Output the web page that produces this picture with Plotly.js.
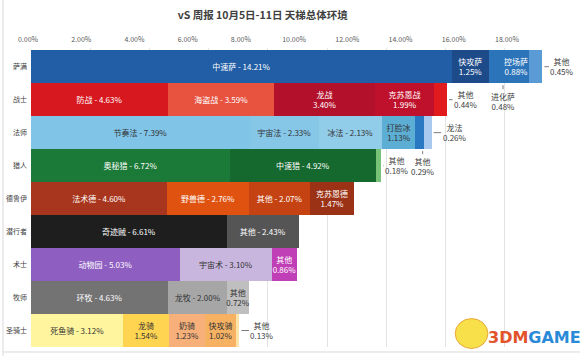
<!DOCTYPE html>
<html>
<head>
<meta charset="utf-8">
<script src="https://cdn.plot.ly/plotly-3.0.1.min.js"></script>
<style>html,body{margin:0;padding:0;background:#fff;}#chart{width:580px;height:356px;}</style>
</head>
<body>
<div id="chart"></div>
<script>
// ---- data ----
const classes = ['萨满','战士','法师','猎人','德鲁伊','潜行者','术士','牧师','圣骑士'];
const segNames = [
  ['中速萨','快攻萨','进化萨','控场萨','其他'],
  ['防战','海盗战','龙战','克苏恩战','其他'],
  ['节奏法','宇宙法','冰法','打脸冰','其他','龙法'],
  ['奥秘猎','中速猎','其他'],
  ['法术德','野兽德','其他','克苏恩德'],
  ['奇迹贼','其他'],
  ['动物园','宇宙术','其他'],
  ['环牧','龙牧','其他'],
  ['死鱼骑','龙骑','奶骑','快攻骑','其他']
];
const segValues = [
  [14.21,1.25,0.48,0.88,0.45],
  [4.63,3.59,3.40,1.99,0.44],
  [7.39,2.33,2.13,1.13,0.29,0.26],
  [6.72,4.92,0.18],
  [4.60,2.76,2.07,1.47],
  [6.61,2.43],
  [5.03,3.10,0.86],
  [4.63,2.00,0.72],
  [3.12,1.54,1.23,1.02,0.13]
];
const topTicks = [0,2,4,6,8,10,12,14,16,18];

// ---- styles ----
const segLabelModes = [
  ['one','two','out','two','out'],
  ['one','one','two','two','out'],
  ['one','one','one','two','out','out'],
  ['one','one','out'],
  ['one','one','one','two'],
  ['one','one'],
  ['one','one','two'],
  ['one','one','two'],
  ['one','two','two','two','out']
];
const segColors = [
  ['#215ea6','#1d4b8a','#2c74ba','#2c74ba','#5b9bd5'],
  ['#d7181f','#e7533f','#b3112b','#c0112c','#e11b1d'],
  ['#80c4e7','#86c7e8','#91cce9','#5caed4','#2a78c1','#a9c9ef'],
  ['#1b7a37','#15692e','#76c276'],
  ['#a8351d','#df520f','#c54312','#9b3115'],
  ['#1e1e1e','#555555'],
  ['#8e5ec1','#c9b6de','#c13fb6'],
  ['#737373','#a6a6a6','#bfbfbf'],
  ['#fff59e','#ffd451','#f7b07a','#f6b163','#fce3a8']
];
// outside-label placement (pixel offsets)
const outLayout = [
  {row:0, seg:2, frac:1,    below:true,  ax:0,  ay:18},
  {row:0, seg:4, frac:1,    below:false, ax:20, ay:0},
  {row:1, seg:4, frac:1,    below:false, ax:19, ay:0},
  {row:2, seg:4, frac:0.85, below:true,  ax:0,  ay:17},
  {row:2, seg:5, frac:1,    below:false, ax:23, ay:0},
  {row:3, seg:2, frac:1,    below:false, ax:16, ay:0},
  {row:8, seg:4, frac:1,    below:false, ax:23, ay:0}
];

const FONT = '"Noto Sans CJK SC", "Noto Sans", sans-serif';
function pct(v){ return v.toFixed(2) + '%'; }
function textColor(hex){
  const r=parseInt(hex.substr(1,2),16), g=parseInt(hex.substr(3,2),16), b=parseInt(hex.substr(5,2),16);
  return (0.299*r+0.587*g+0.114*b)/255 > 0.55 ? '#333333' : '#ffffff';
}

const traces = [];
const maxLevels = Math.max(...segValues.map(a => a.length));
for (let k = 0; k < maxLevels; k++) {
  const ys=[], xs=[], texts=[], cols=[], tcols=[];
  segValues.forEach((vals, r) => {
    if (vals.length > k) {
      ys.push(classes[r]);
      xs.push(vals[k]);
      const m = segLabelModes[r][k], n = segNames[r][k];
      texts.push(m === 'one' ? n + ' - ' + pct(vals[k]) : m === 'two' ? n + '<br>' + pct(vals[k]) : '');
      cols.push(segColors[r][k]);
      tcols.push(textColor(segColors[r][k]));
    }
  });
  traces.push({
    type:'bar', orientation:'h', y:ys, x:xs, text:texts,
    textposition:'inside', insidetextanchor:'middle', constraintext:'none', textangle:0,
    textfont:{family:FONT, size:8, color:tcols},
    marker:{color:cols, line:{width:0}},
    hoverinfo:'skip', showlegend:false, xaxis:'x', yaxis:'y'
  });
}
// invisible helper trace for the top tick axis
traces.push({type:'scatter', x:[0], y:[classes[0]], xaxis:'x2', yaxis:'y', mode:'markers',
  marker:{opacity:0}, hoverinfo:'skip', showlegend:false});

const annotations = outLayout.map(o => {
  const vals = segValues[o.row];
  const start = vals.slice(0, o.seg).reduce((a,b)=>a+b, 0);
  return {
    x: start + o.frac*vals[o.seg], y: o.below ? o.row + 0.5 : o.row,
    xref:'x', yref:'y', ax:o.ax, ay:o.ay, showarrow:true, arrowhead:0, arrowwidth:0.8,
    arrowcolor:'#595959', standoff:2,
    text: segNames[o.row][o.seg] + '<br>' + pct(vals[o.seg]),
    font:{family:FONT, size:8, color:'#404040'}, align:'center'
  };
});
annotations.push({
  xref:'paper', yref:'paper', x:0.945, y:0.033, xanchor:'center', yanchor:'middle', showarrow:false,
  text:'<b><span style="color:#e2532a">3DM</span><span style="color:#2a8ad8">GAME</span></b>',
  font:{family:'"DejaVu Sans", sans-serif', size:16}
});

const layout = {
  width:580, height:356,
  margin:{l:28, r:16, t:48, b:9, pad:0},
  paper_bgcolor:'#ffffff', plot_bgcolor:'rgba(0,0,0,0)',
  barmode:'stack', bargap:0,
  title:{text:'vS 周报 10月5日-11日 天梯总体环境', x:0.453, xref:'container', xanchor:'center',
    y:1-15/356, yref:'container', yanchor:'middle',
    font:{family:FONT, size:10.5, color:'#404040', weight:'bold'}},
  xaxis:{domain:[3/536,1], range:[0,18], tick0:0, dtick:2, showgrid:true, gridcolor:'#e3e3e3',
    gridwidth:1, showticklabels:false, zeroline:false, showline:false, ticks:'', fixedrange:true},
  xaxis2:{domain:[0,1], anchor:'y', side:'top', range:[0, 536/26.61], tickmode:'array',
    tickvals:topTicks, ticktext:topTicks.map(pct), showgrid:false, zeroline:false, showline:false,
    ticks:'', tickfont:{family:FONT, size:7, color:'#595959'}, ticklabelstandoff:4, fixedrange:true},
  yaxis:{type:'category', categoryarray:classes, autorange:'reversed', showgrid:false, zeroline:false,
    showline:false, ticks:'', tickfont:{family:FONT, size:7, color:'#404040'}, ticklabelstandoff:3,
    fixedrange:true},
  annotations: annotations,
  shapes:[
    {type:'line', xref:'paper', yref:'paper', x0:-0.0466, x1:-0.0466, y0:-0.03, y1:1.16, line:{color:'#d9d9d9', width:1}},
    {type:'line', xref:'paper', yref:'paper', x0:-0.0466, x1:1.03, y0:-0.0167, y1:-0.0167, line:{color:'#d9d9d9', width:1}},
    {type:'circle', xref:'paper', yref:'paper', x0:0.797, x1:0.858, y0:-0.005, y1:0.095, fillcolor:'#f8e04a', line:{color:'#e9a83a', width:1}}
  ]
};

Plotly.newPlot('chart', traces, layout, {displayModeBar:false, staticPlot:true});
</script>
</body>
</html>
